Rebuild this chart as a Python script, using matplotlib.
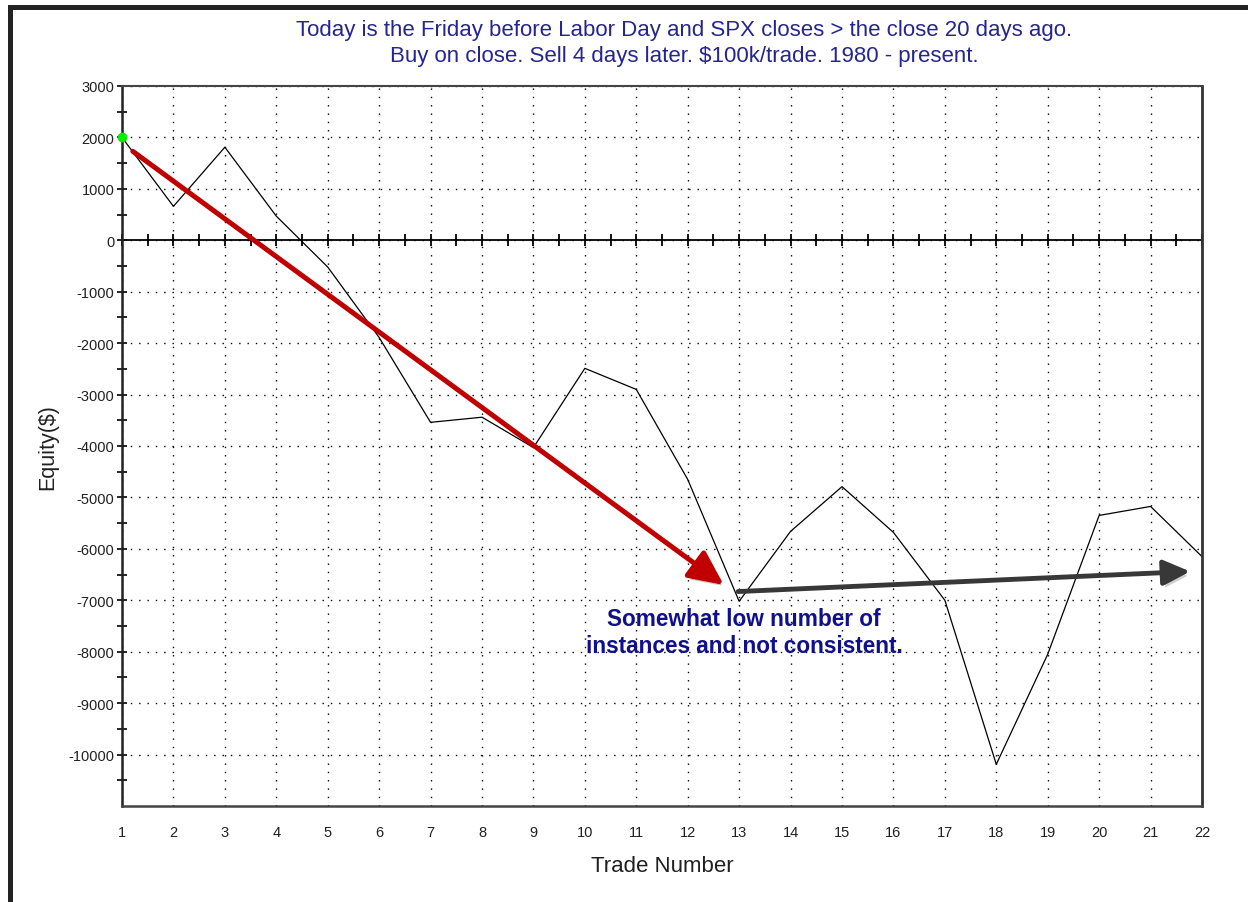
import numpy as np
import matplotlib
matplotlib.use('Agg')
import matplotlib.pyplot as plt
from matplotlib.patches import Rectangle
import matplotlib.patheffects as pe

plt.rcParams['font.family'] = ['Liberation Sans', 'DejaVu Sans']
plt.rcParams['axes.unicode_minus'] = False

trades = np.arange(1, 23)
equity = [2000, 660, 1810, 470, -520, -1890, -3540, -3440, -4030, -2490, -2900,
          -4650, -7020, -5660, -4790, -5680, -7000, -10190, -8050, -5350, -5175, -6150]
y_ticks = np.arange(-10000, 3001, 1000)

# annotation arrows (data coords)
red_start, red_end = (1.21, 1730), (12.7, -6700)
gray_start, gray_end = (12.98, -6830), (21.77, -6440)

title = ("Today is the Friday before Labor Day and SPX closes > the close 20 days ago.\n"
         "Buy on close. Sell 4 days later. $100k/trade. 1980 - present.")
note = "Somewhat low number of\ninstances and not consistent."

fig = plt.figure(figsize=(12.48, 9.03), dpi=100)
ax = fig.add_axes([122/1248, 1-807/903, 1080/1248, 720/903])

ax.set_xlim(1, 22)
ax.set_ylim(-11000, 3000)
ax.set_xticks(trades)
ax.set_yticks(y_ticks)
ax.set_yticks(np.arange(-10500, 3000, 1000), minor=True)
ax.grid(True, which='major', color='black', linestyle=(0, (1, 5)), linewidth=1)
ax.tick_params(axis='x', length=0, pad=14, labelsize=10.5, labelcolor='#202020')
ax.tick_params(axis='y', which='both', direction='inout', length=7, width=1.2,
               labelsize=10.5, labelcolor='#202020', pad=2)

ax.spines['left'].set_linewidth(1.8)
ax.spines['left'].set_color('#222222')
ax.spines['bottom'].set_linewidth(1.8)
ax.spines['bottom'].set_color('#444444')
ax.spines['top'].set_linewidth(1.5)
ax.spines['top'].set_color('#444444')
ax.spines['right'].set_linewidth(2)
ax.spines['right'].set_color('#333333')

# zero line with half-step ticks
ax.axhline(0, color='black', linewidth=1.3)
half = np.arange(1, 22.01, 0.5)
ax.plot(half, np.zeros_like(half), linestyle='none', marker='|', markersize=8,
        markeredgewidth=1.3, color='black', clip_on=False)

ax.plot(trades, equity, color='black', linewidth=0.9)
ax.plot([trades[0]], [equity[0]], marker='o', color='#00ee00', markersize=6,
        linestyle='none', clip_on=False, zorder=5)

ax.annotate('', xy=red_end, xytext=red_start,
            arrowprops=dict(arrowstyle='-|>,head_length=1.05,head_width=0.5',
                            color='#c00000', lw=3.6, mutation_scale=20, shrinkA=0, shrinkB=0,
                            path_effects=[pe.SimplePatchShadow(offset=(2, -3), alpha=0.25), pe.Normal()]))
ax.annotate('', xy=gray_end, xytext=gray_start,
            arrowprops=dict(arrowstyle='-|>,head_length=0.95,head_width=0.45',
                            color='#383838', lw=3.5, mutation_scale=17, shrinkA=0, shrinkB=0,
                            path_effects=[pe.SimplePatchShadow(offset=(2, -3), alpha=0.2), pe.Normal()]))

ax.text(13.1, -7130, note, ha='center', va='top', fontsize=16.3, fontweight='bold',
        color='#10108a', linespacing=1.2)

ax.set_xlabel('Trade Number', fontsize=16, color='#202020', labelpad=11)
ax.set_ylabel('Equity($)', fontsize=15.5, color='#202020', labelpad=7)

fig.text(684/1248, 1-20/903, title, ha='center', va='top', fontsize=16,
         color='#25258f', linespacing=1.32)

# outer frame (top and left edges)
fig.add_artist(Rectangle((8/1248, 0), 5/1248, 1-6/903, transform=fig.transFigure,
                         color='#222222', lw=0))
fig.add_artist(Rectangle((8/1248, 1-11/903), 1, 5/903, transform=fig.transFigure,
                         color='#222222', lw=0))

fig.savefig('out.png', dpi=100)
print('Saved out.png')
